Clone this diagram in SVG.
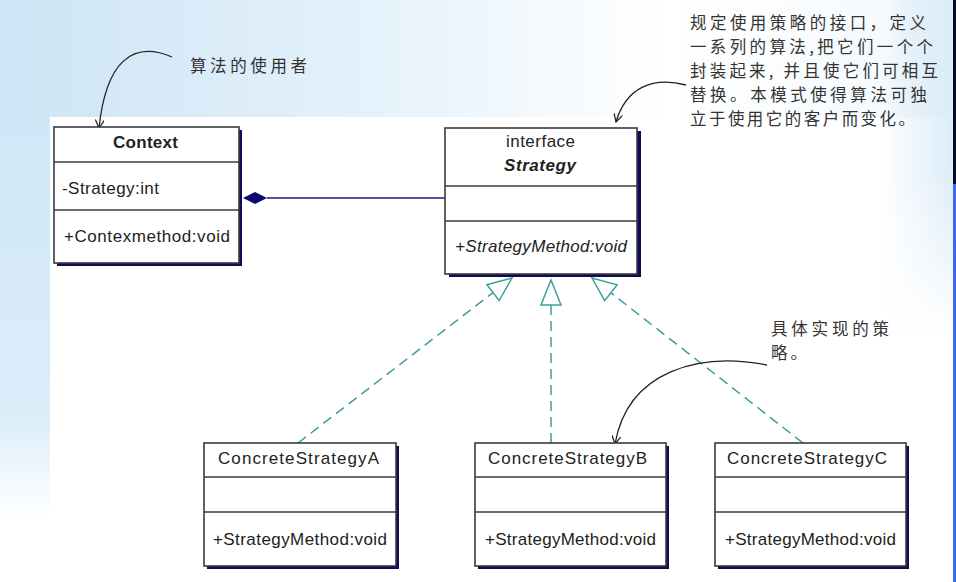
<svg xmlns="http://www.w3.org/2000/svg" width="956" height="582" viewBox="0 0 956 582">
<style>
.box{fill:#ffffff;stroke:#3a3a3a;stroke-width:1.6}
.shadow{fill:#0c0c58}
.div{stroke:#3a3a3a;stroke-width:1.4}
.t{font-family:"Liberation Sans",Arial,sans-serif;font-size:17px;fill:#222}
.cn{font-family:"Noto Sans CJK SC","Noto Sans",sans-serif;font-size:16.5px;fill:#333}
.dash{stroke:#3d9e9e;stroke-width:1.5;stroke-dasharray:10 6;fill:none}
.tri{fill:#ffffff;stroke:#3d9e9e;stroke-width:1.5}
.note{fill:none;stroke:#222;stroke-width:1.3}
</style>
<defs>
<linearGradient id="gTop" x1="0" y1="0" x2="1" y2="0">
<stop offset="0" stop-color="#cde5f5"/>
<stop offset="0.35" stop-color="#e2f0fa"/>
<stop offset="0.7" stop-color="#ffffff"/>
<stop offset="0.93" stop-color="#f6fafd"/>
<stop offset="1" stop-color="#dcecf8"/>
</linearGradient>
<linearGradient id="gLeft" x1="0" y1="0" x2="0" y2="1">
<stop offset="0" stop-color="#d0e7f7"/>
<stop offset="0.75" stop-color="#dbedf9"/>
<stop offset="1" stop-color="#ffffff"/>
</linearGradient>
<linearGradient id="gRightH" x1="0" y1="0" x2="1" y2="0">
<stop offset="0" stop-color="#dcecf8" stop-opacity="0"/>
<stop offset="1" stop-color="#dcecf8" stop-opacity="1"/>
</linearGradient>
<linearGradient id="gFadeV" x1="0" y1="0" x2="0" y2="1">
<stop offset="0" stop-color="#ffffff"/>
<stop offset="0.5" stop-color="#ffffff"/>
<stop offset="1" stop-color="#000000"/>
</linearGradient>
<mask id="mRight" maskUnits="userSpaceOnUse" x="880" y="0" width="73" height="340">
<rect x="880" y="0" width="73" height="340" fill="url(#gFadeV)"/>
</mask>
<marker id="openArrow" viewBox="0 0 10 10" refX="9" refY="5" markerWidth="9" markerHeight="9" markerUnits="userSpaceOnUse" orient="auto">
<path d="M0,0 L9,5 L0,10" fill="none" stroke="#222" stroke-width="1.4"/>
</marker>
</defs>

<g id="background">
<rect x="0" y="0" width="956" height="582" fill="#ffffff"/>
<rect x="0" y="0" width="956" height="117" fill="url(#gTop)"/>
<rect x="0" y="117" width="50" height="400" fill="url(#gLeft)"/>
<rect x="880" y="0" width="73" height="340" fill="url(#gRightH)" mask="url(#mRight)"/>
<rect x="953" y="0" width="3" height="184" fill="#050a25"/>
<rect x="953" y="184" width="3" height="398" fill="#3a6af5"/>
</g>

<g id="connectors">
<line x1="267" y1="198" x2="445" y2="198" stroke="#1a1a7a" stroke-width="1.6"/>
<polygon points="243,198 255,192 267,198 255,204" fill="#0a0a70"/>
<line class="dash" x1="298" y1="443" x2="493" y2="292.6"/>
<polygon class="tri" points="512,278 499.1,300.5 486.9,284.7"/>
<line class="dash" x1="551" y1="443" x2="551" y2="305"/>
<polygon class="tri" points="551,280 561,305 541,305"/>
<line class="dash" x1="803" y1="443" x2="610.9" y2="292.8"/>
<polygon class="tri" points="592,278 617.1,284.9 604.7,300.7"/>
<path class="note" d="M172,57 C132,40 106,62 99,128" marker-end="url(#openArrow)"/>
<path class="note" d="M686,85 C652,76 626,88 616,122" marker-end="url(#openArrow)"/>
<path class="note" d="M767,365 C700,352 628,370 615,444" marker-end="url(#openArrow)"/>
</g>

<g id="context">
<rect class="shadow" x="57" y="130" width="185" height="136"/>
<rect class="box" x="54" y="127" width="185" height="136"/>
<line class="div" x1="54" y1="162" x2="239" y2="162"/>
<line class="div" x1="54" y1="210" x2="239" y2="210"/>
<text class="t" x="113" y="148" font-weight="bold" textLength="65" lengthAdjust="spacing">Context</text>
<text class="t" x="62" y="194" textLength="97" lengthAdjust="spacing">-Strategy:int</text>
<text class="t" x="64" y="242" textLength="166" lengthAdjust="spacing">+Contexmethod:void</text>
</g>

<g id="strategy">
<rect class="shadow" x="449" y="131" width="192" height="146"/>
<rect class="box" x="445" y="128" width="192" height="146"/>
<line class="div" x1="445" y1="186" x2="637" y2="186"/>
<line class="div" x1="445" y1="221" x2="637" y2="221"/>
<text class="t" x="506" y="147" textLength="69" lengthAdjust="spacing">interface</text>
<text class="t" x="504" y="171" font-style="italic" font-weight="bold" textLength="72" lengthAdjust="spacing">Strategy</text>
<text class="t" x="455" y="252" font-style="italic" textLength="172" lengthAdjust="spacing">+StrategyMethod:void</text>
</g>

<g id="concreteA">
<rect class="shadow" x="207" y="446" width="192" height="123"/>
<rect class="box" x="204" y="443" width="192" height="123"/>
<line class="div" x1="204" y1="477" x2="396" y2="477"/>
<line class="div" x1="204" y1="512" x2="396" y2="512"/>
<text class="t" x="218" y="464" textLength="161" lengthAdjust="spacing">ConcreteStrategyA</text>
<text class="t" x="213" y="545" textLength="174" lengthAdjust="spacing">+StrategyMethod:void</text>
</g>

<g id="concreteB">
<rect class="shadow" x="478" y="446" width="191" height="123"/>
<rect class="box" x="475" y="443" width="191" height="123"/>
<line class="div" x1="475" y1="477" x2="666" y2="477"/>
<line class="div" x1="475" y1="512" x2="666" y2="512"/>
<text class="t" x="488" y="464" textLength="159" lengthAdjust="spacing">ConcreteStrategyB</text>
<text class="t" x="485" y="545" textLength="171" lengthAdjust="spacing">+StrategyMethod:void</text>
</g>

<g id="concreteC">
<rect class="shadow" x="718" y="446" width="191" height="123"/>
<rect class="box" x="715" y="443" width="191" height="123"/>
<line class="div" x1="715" y1="477" x2="906" y2="477"/>
<line class="div" x1="715" y1="512" x2="906" y2="512"/>
<text class="t" x="727" y="464" textLength="160" lengthAdjust="spacing">ConcreteStrategyC</text>
<text class="t" x="725" y="545" textLength="171" lengthAdjust="spacing">+StrategyMethod:void</text>
</g>

<g id="note-user">
<text class="cn" x="190" y="72" textLength="117" lengthAdjust="spacing">算法的使用者</text>
</g>

<g id="note-interface">
<text class="cn" x="690" y="29" textLength="236" lengthAdjust="spacing">规定使用策略的接口，定义</text>
<text class="cn" x="690" y="53" textLength="243" lengthAdjust="spacing">一系列的算法,把它们一个个</text>
<text class="cn" x="690" y="77" textLength="248" lengthAdjust="spacing">封装起来, 并且使它们可相互</text>
<text class="cn" x="690" y="101" textLength="237" lengthAdjust="spacing">替换。本模式使得算法可独</text>
<text class="cn" x="690" y="125" textLength="225" lengthAdjust="spacing">立于使用它的客户而变化。</text>
</g>

<g id="note-concrete">
<text class="cn" x="771" y="335" textLength="118" lengthAdjust="spacing">具体实现的策</text>
<text class="cn" x="771" y="359" textLength="36" lengthAdjust="spacing">略。</text>
</g>
</svg>
